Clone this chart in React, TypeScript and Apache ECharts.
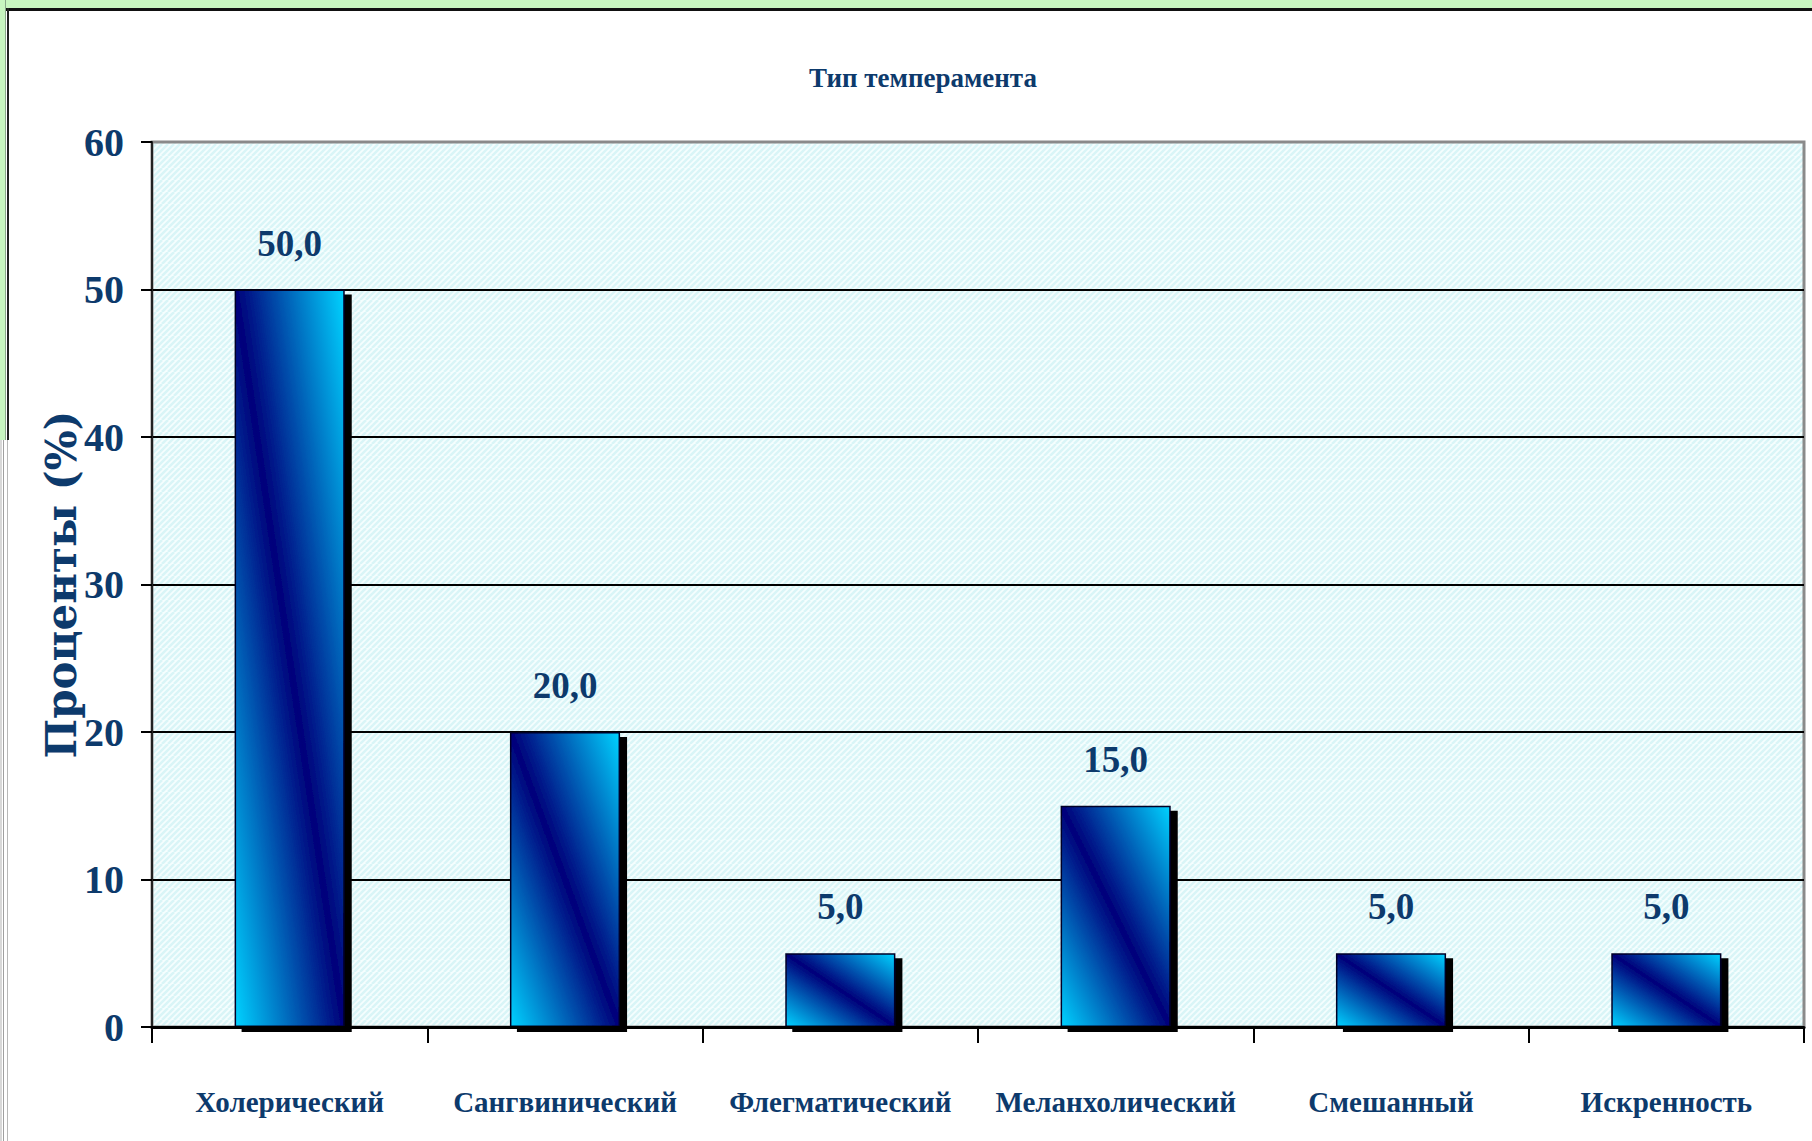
import React, { useEffect, useRef } from "react";
import * as echarts from "echarts";

const categories = [
  "Холерический",
  "Сангвинический",
  "Флегматический",
  "Меланхолический",
  "Смешанный",
  "Искренность",
];
const values = [50, 20, 5, 15, 5, 5];
const yMin = 0;
const yMax = 60;
const yInterval = 10;
const chartTitle = "Тип темперамента";
const yAxisTitle = "Проценты (%)";

const NAVY = "#0d3a6c";
const SERIF = "'Liberation Serif', 'Times New Roman', serif";

function makePattern(): string {
  const c = document.createElement("canvas");
  c.width = 12;
  c.height = 12;
  const ctx = c.getContext("2d")!;
  ctx.fillStyle = "#f5fefe";
  ctx.fillRect(0, 0, 12, 12);
  ctx.strokeStyle = "#d9f5f7";
  ctx.lineWidth = 2.5;
  for (let k = -12; k <= 24; k += 6) {
    ctx.beginPath();
    ctx.moveTo(k, 12);
    ctx.lineTo(k + 12, 0);
    ctx.stroke();
  }
  return c.toDataURL();
}

export default function App() {
  const ref = useRef<HTMLDivElement>(null);
  useEffect(() => {
    document.body.style.margin = "0";
    const chart = echarts.init(ref.current!, undefined, { renderer: "svg" });
    const barColor = new echarts.graphic.LinearGradient(0, 1, 1, 0, [
      { offset: 0, color: "#00d2ff" },
      { offset: 0.5, color: "#00007a" },
      { offset: 1, color: "#00d2ff" },
    ]);
    chart.setOption({
      animation: false,
      backgroundColor: "#ffffff",
      title: {
        text: chartTitle,
        left: 918,
        top: 59,
        textAlign: "center",
        textStyle: {
          fontFamily: SERIF,
          fontWeight: "bold",
          fontSize: 27,
          color: NAVY,
        },
      },
      grid: {
        left: 152,
        right: 8,
        top: 142,
        bottom: 114,
        show: true,
        borderColor: "#8a8a8a",
        borderWidth: 3,
        backgroundColor: {
          image: makePattern(),
          repeat: "repeat",
          imageWidth: 12,
          imageHeight: 12,
        },
      },
      xAxis: {
        type: "category",
        data: categories,
        boundaryGap: true,
        axisLine: { show: true, lineStyle: { color: "#000", width: 3 } },
        axisTick: {
          show: true,
          alignWithLabel: false,
          length: 16,
          lineStyle: { color: "#000", width: 2 },
        },
        axisLabel: {
          interval: 0,
          margin: 60,
          fontFamily: SERIF,
          fontWeight: "bold",
          fontSize: 29,
          color: NAVY,
        },
        splitLine: { show: false },
        z: 5,
      },
      yAxis: {
        type: "value",
        min: yMin,
        max: yMax,
        interval: yInterval,
        name: yAxisTitle,
        nameLocation: "middle",
        nameRotate: 90,
        nameGap: 70,
        nameMoveOverlap: false,
        nameTextStyle: {
          fontFamily: "'DejaVu Serif', 'Liberation Serif', serif",
          fontWeight: "bold",
          fontSize: 42,
          color: NAVY,
        },
        axisLine: { show: true, lineStyle: { color: "#222", width: 2 } },
        axisTick: {
          show: true,
          length: 11,
          lineStyle: { color: "#000", width: 2 },
        },
        axisLabel: {
          margin: 28,
          fontFamily: SERIF,
          fontWeight: "bold",
          fontSize: 40,
          color: NAVY,
        },
        splitLine: {
          show: true,
          showMaxLine: false,
          lineStyle: { color: "#000", width: 2 },
        },
      },
      series: [
        {
          type: "bar",
          data: values,
          barWidth: "40%",
          itemStyle: {
            color: barColor,
            borderColor: "#000028",
            borderWidth: 1.5,
            shadowColor: "#000",
            shadowBlur: 0,
            shadowOffsetX: 7,
            shadowOffsetY: 5,
          },
          label: {
            show: true,
            position: "top",
            distance: 28,
            formatter: (p: any) => p.value.toFixed(1).replace(".", ","),
            fontFamily: SERIF,
            fontWeight: "bold",
            fontSize: 37,
            color: NAVY,
          },
        },
      ],
      graphic: [
        { type: "rect", shape: { x: 0, y: 0, width: 1812, height: 8 }, style: { fill: "#c8f6c0" }, z: 100 },
        { type: "rect", shape: { x: 6, y: 8, width: 1806, height: 3 }, style: { fill: "#111" }, z: 100 },
        { type: "rect", shape: { x: 0, y: 0, width: 5, height: 440 }, style: { fill: "#c8f6c0" }, z: 100 },
        { type: "rect", shape: { x: 5, y: 0, width: 1, height: 440 }, style: { fill: "#8aa88a" }, z: 100 },
        { type: "rect", shape: { x: 7, y: 8, width: 2, height: 432 }, style: { fill: "#222" }, z: 100 },
        { type: "rect", shape: { x: 0, y: 440, width: 2, height: 701 }, style: { fill: "#d8d8d8" }, z: 100 },
        { type: "rect", shape: { x: 3, y: 440, width: 1, height: 701 }, style: { fill: "#a0a0a0" }, z: 100 },
        { type: "rect", shape: { x: 7, y: 440, width: 1, height: 701 }, style: { fill: "#b8b8b8" }, z: 100 },
      ],
    });
    return () => chart.dispose();
  }, []);
  return (
    <div
      ref={ref}
      style={{ position: "absolute", left: 0, top: 0, width: 1812, height: 1141 }}
    />
  );
}
